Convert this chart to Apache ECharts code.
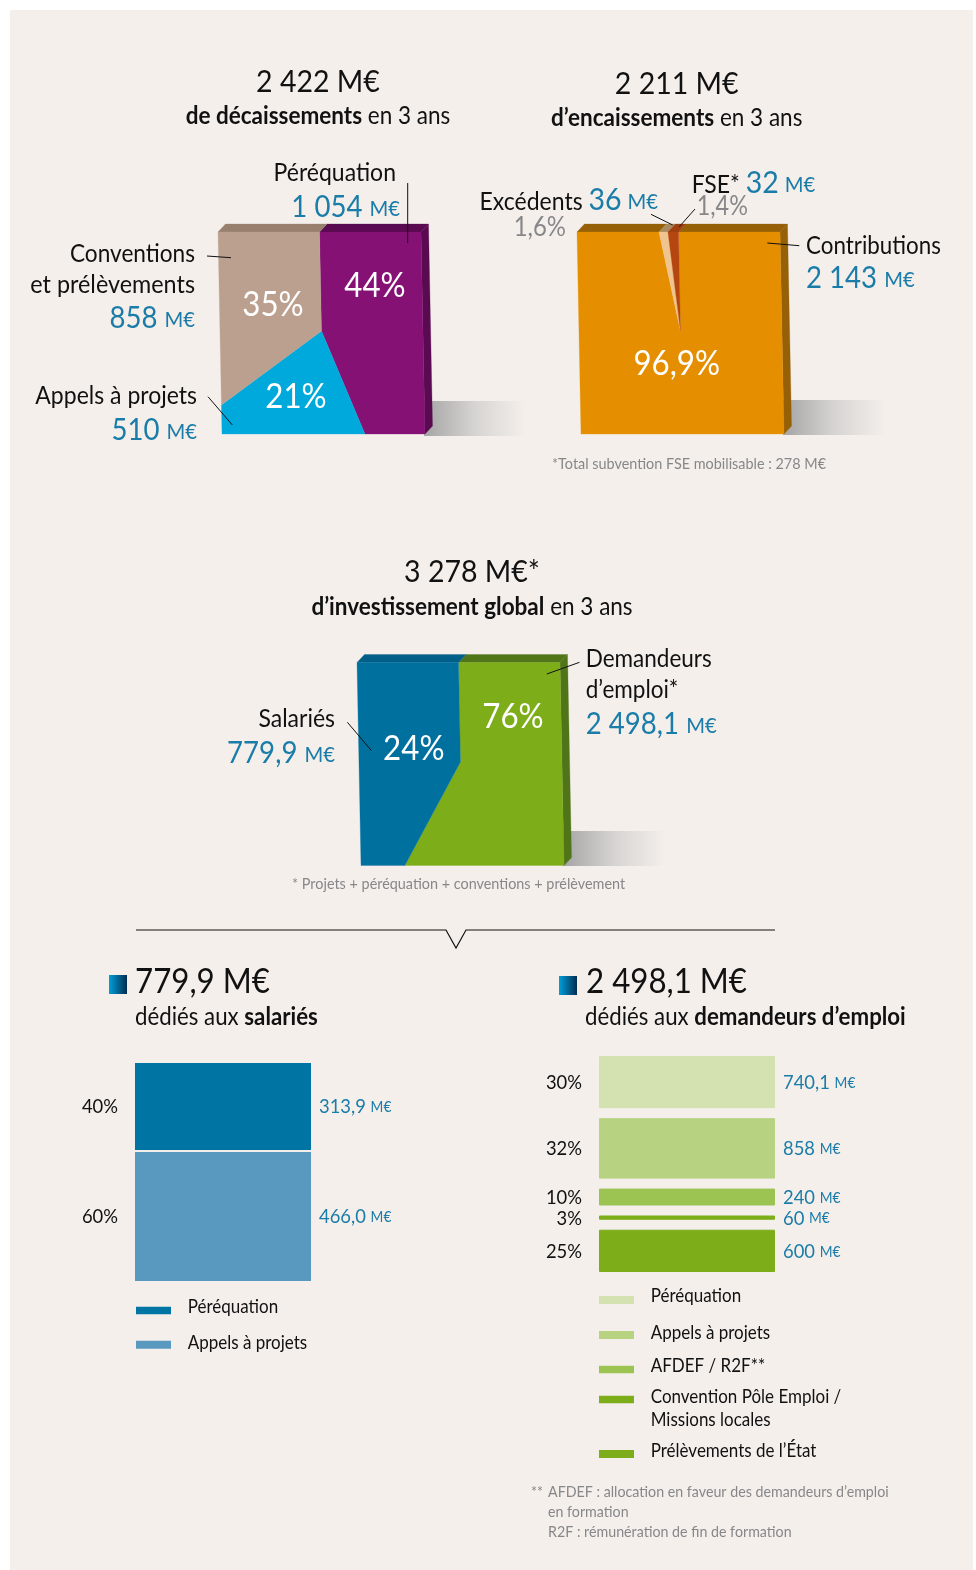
<!DOCTYPE html>
<html>
<head>
<meta charset="utf-8">
<title>Décaissements et encaissements</title>
<script src="https://cdn.jsdelivr.net/npm/echarts@6/dist/echarts.min.js"></script>
<style>
  html, body { margin: 0; padding: 0; background: #fff; }
  #main { width: 976px; height: 1570px; }
</style>
</head>
<body>
<div id="main"></div>
<script>
// parts dessinees (sens horaire depuis le haut du carre)
var decaissementsNoms = ['Péréquation', 'Appels à projets', 'Conventions et prélèvements'];
var decaissementsDessin = [44.9, 21.2, 33.9];
var encaissementsNoms = ['Contributions', 'Excédents', 'FSE'];
var encaissementsDessin = [97.6, 1.1, 1.3];
var investissementNoms = ['Demandeurs d\'emploi', 'Salariés'];
var investissementDessin = [57.1, 42.9];

// barres du bas
var salariesNoms = ['Péréquation', 'Appels à projets'];
var salariesValeurs = [313.9, 466.0];
var salariesPct = ['40%', '60%'];
var salariesLabels = ['313,9', '466,0'];
var demandeursNoms = ['Péréquation', 'Appels à projets', 'AFDEF / R2F**', 'Convention Pôle Emploi / Missions locales', 'Prélèvements de l\'État'];
var demandeursValeurs = [740.1, 858, 240, 60, 600];
var demandeursPct = ['30%', '32%', '10%', '3%', '25%'];
var demandeursLabels = ['740,1', '858', '240', '60', '600'];

// couleurs
var BG = '#f4efeb', BLUE_TXT = '#1a7ca8', GREY_TXT = '#87878a', INK = '#111';
var decaissementsFace = ['#861175', '#00a9dc', '#bba08f'];
var decaissementsDos = ['#5a0a50', '#007aa0', '#98806f'];
var encaissementsFace = ['#e58e00', '#f0c48f', '#b5460f'];
var encaissementsDos = ['#966006', '#a98a5c', '#a03e10'];
var investissementFace = ['#7dae1a', '#00719f'];
var investissementDos = ['#4f7518', '#005f88'];
var salariesCouleurs = ['#0074a3', '#5999bf'];
var demandeursCouleurs = ['#d3e2b0', '#b7d382', '#9bc453', '#7dae1a', '#7dae1a'];

var FONT = 'Lato';
var SX = 0.92; // police d'origine plus etroite

function rich(sizeB, sizeU) {
  return {
    b: { fontFamily: FONT, fontWeight: 'bold', fontSize: sizeB, fill: INK },
    n: { fontFamily: FONT, fontSize: sizeB, fill: INK },
    v: { fontFamily: FONT, fontSize: sizeB, fill: BLUE_TXT },
    u: { fontFamily: FONT, fontSize: sizeU, fill: BLUE_TXT, verticalAlign: 'bottom', padding: [0, 0, Math.round(0.3 * (sizeB - sizeU)), 0] },
    // ligne mixte : libelle noir + grand chiffre bleu
    l: { fontFamily: FONT, fontSize: sizeB, fill: INK, verticalAlign: 'bottom', padding: [0, 0, 1, 0] },
    V: { fontFamily: FONT, fontSize: 31, fill: BLUE_TXT },
    U: { fontFamily: FONT, fontSize: 22, fill: BLUE_TXT, verticalAlign: 'bottom', padding: [0, 0, 3, 0] }
  };
}

function txt(x, y, text, size, align, color, unitSize, sx) {
  return {
    type: 'text', x: x, y: y, scaleX: sx || SX, z: 20, silent: true,
    style: {
      text: text, fontFamily: FONT, fontSize: size, fill: color || INK,
      align: align || 'left', verticalAlign: 'middle',
      rich: rich(size, unitSize || Math.round(size * 0.72))
    }
  };
}

function segment(x1, y1, x2, y2) {
  return { type: 'line', z: 21, silent: true, shape: { x1: x1, y1: y1, x2: x2, y2: y2 }, style: { stroke: INK, lineWidth: 1 } };
}

function ombre(x, y, w, h) {
  return {
    type: 'rect', z: 1, silent: true, shape: { x: x, y: y, width: w, height: h },
    style: {
      fill: new echarts.graphic.LinearGradient(0, 0, 1, 0, [
        { offset: 0, color: '#a5a5a5' }, { offset: 0.5, color: '#d6d4d2' }, { offset: 1, color: BG }
      ])
    }
  };
}

function carre(x, y, s) {
  return {
    type: 'rect', z: 5, silent: true, shape: { x: x, y: y, width: s, height: s + 1 },
    style: { fill: new echarts.graphic.LinearGradient(0, 0, 1, 0, [{ offset: 0, color: '#009fdb' }, { offset: 1, color: '#002c50' }]) }
  };
}

function swatch(x, y, h, color) {
  return { type: 'rect', z: 5, silent: true, shape: { x: x, y: y, width: 35, height: h }, style: { fill: color } };
}

// point du perimetre du carre, t en cotes depuis le milieu du haut
function perim(t) {
  if (t <= 0.5) return [0.5 + t, 0];
  if (t <= 1.5) return [1, t - 0.5];
  if (t <= 2.5) return [1 - (t - 1.5), 1];
  if (t <= 3.5) return [0, 1 - (t - 2.5)];
  return [t - 3.5, 0];
}

function carrePie(gridIndex, name, parts, noms, face, dos) {
  var cum = 0;
  var data = parts.map(function (p, i) {
    var row = { name: noms[i], value: [cum, cum + p] };
    cum += p;
    return row;
  });
  var SKEW = 4, DX = 7.5, DY = -8, CV = 0.49;
  return {
    type: 'custom', name: name, coordinateSystem: 'cartesian2d',
    xAxisIndex: gridIndex, yAxisIndex: gridIndex, z: 5, silent: true,
    encode: { x: [0, 1] },
    data: data,
    renderItem: function (params, api) {
      var t0 = api.value(0) / 100 * 4, t1 = api.value(1) / 100 * 4;
      var i = params.dataIndex;
      function px(uv) {
        var p = api.coord(uv);
        return [p[0] + SKEW * uv[1], p[1]];
      }
      var pts = [px([0.5, CV]), px(perim(t0))];
      [0.5, 1.5, 2.5, 3.5].forEach(function (c) {
        if (c > t0 && c < t1) pts.push(px(perim(c)));
      });
      pts.push(px(perim(t1)));

      var kids = [];
      function tranche(a, b) {
        var s = Math.max(t0, a), e = Math.min(t1, b);
        if (e <= s) return;
        var p = px(perim(s)), q = px(perim(e));
        kids.push({
          type: 'polygon',
          shape: { points: [p, q, [q[0] + DX, q[1] + DY], [p[0] + DX, p[1] + DY]] },
          style: { fill: dos[i], stroke: dos[i], lineWidth: 0.3 }
        });
      }
      tranche(0, 0.5);
      tranche(0.5, 1.5);
      tranche(3.5, 4);
      kids.push({ type: 'polygon', shape: { points: pts }, style: { fill: face[i], stroke: face[i], lineWidth: 0.3 } });
      return { type: 'group', children: kids };
    }
  };
}

function barres(gridIndex, noms, valeurs, couleurs, ecart, bord) {
  var pile = 'total' + gridIndex;
  return valeurs.reduce(function (out, v, i) {
    out.push({
      type: 'bar', name: noms[i], stack: pile, xAxisIndex: gridIndex, yAxisIndex: gridIndex,
      barWidth: '100%', silent: true, data: [v],
      itemStyle: { color: couleurs[i], borderColor: couleurs[i], borderWidth: bord }
    });
    if (i < valeurs.length - 1) {
      out.push({
        type: 'bar', name: 'ecart', stack: pile, xAxisIndex: gridIndex, yAxisIndex: gridIndex,
        barWidth: '100%', silent: true, data: [ecart], itemStyle: { color: 'transparent' }
      });
    }
    return out;
  }, []);
}

function milieux(valeurs, ecart) {
  var cum = 0;
  return valeurs.map(function (v) {
    var m = cum + v / 2;
    cum += v + ecart;
    return m;
  });
}

function colonneTexte(gridIndex, name, mids, textes, x, align, size, color) {
  return {
    type: 'custom', name: name, coordinateSystem: 'cartesian2d',
    xAxisIndex: gridIndex, yAxisIndex: gridIndex, z: 10, silent: true,
    encode: { x: 0, y: 1 },
    data: mids.map(function (m) { return [0, m]; }),
    renderItem: function (params, api) {
      var p = api.coord([0, api.value(1)]);
      return txt(x, p[1] + 0.5, textes[params.dataIndex], size, align, color, 15);
    }
  };
}

function somme(a) { return a.reduce(function (s, v) { return s + v; }, 0); }
var ecartSal = 7.2, ecartDem = 142;

var grilles = [
  { left: 218, top: 232, width: 203, height: 202 },
  { left: 577, top: 232, width: 203, height: 202 },
  { left: 357, top: 662.5, width: 203, height: 203 },
  { left: 135, top: 1063, width: 176, height: 218 },
  { left: 599, top: 1056, width: 176, height: 216 }
];
var maxBarres = [
  somme(salariesValeurs) + ecartSal,
  somme(demandeursValeurs) + 4 * ecartDem
];

var xAxes = grilles.map(function (g, i) {
  if (i < 3) return { type: 'value', gridIndex: i, min: 0, max: 1, show: false };
  return { type: 'category', gridIndex: i, data: ['x'], show: false };
});
var yAxes = grilles.map(function (g, i) {
  if (i < 3) return { type: 'value', gridIndex: i, min: 0, max: 1, inverse: true, show: false };
  return { type: 'value', gridIndex: i, min: 0, max: maxBarres[i - 3], inverse: true, show: false };
});

var M = ' {u|M€}', MG = ' {U|M€}';
var SX_LEG = 0.85, SX_NOTE = 0.89, SX_SOUS = 0.9;
var textes = [
  // decaissements
  txt(318, 81.5, '2 422 M€', 31, 'center'),
  txt(318, 116, '{b|de décaissements} {n|en 3 ans}', 25, 'center', null, 0, SX_SOUS),
  txt(396, 173, 'Péréquation', 25, 'right'),
  txt(400, 207, '{v|1 054}' + M, 30, 'right'),
  txt(195, 254, 'Conventions', 25, 'right', null, 0, 0.905),
  txt(195, 285, 'et prélèvements', 25, 'right', null, 0, 0.935),
  txt(195, 318, '{v|858}' + M, 30, 'right'),
  txt(197, 396, 'Appels à projets', 25, 'right'),
  txt(197, 430, '{v|510}' + M, 30, 'right'),
  txt(375, 286.5, '44%', 34, 'center', '#fff'),
  txt(273, 305.5, '35%', 34, 'center', '#fff'),
  txt(296, 397.5, '21%', 34, 'center', '#fff'),
  segment(407.7, 183, 407.7, 243),
  segment(207, 256, 231, 257.7),
  segment(208, 396.7, 232.4, 425),
  // encaissements
  txt(676.7, 84, '2 211 M€', 31, 'center'),
  txt(676.7, 118, '{b|d’encaissements} {n|en 3 ans}', 25, 'center', null, 0, SX_SOUS),
  txt(658, 200, '{l|Excédents} {V|36}' + MG, 25, 'right'),
  txt(566, 228, '1,6%', 26, 'right', GREY_TXT),
  txt(691.7, 183, '{l|FSE*} {V|32}' + MG, 25, 'left'),
  txt(696.7, 207, '1,4%', 26, 'left', GREY_TXT, 0, 0.9),
  txt(806, 245.7, 'Contributions', 25, 'left', null, 0, 0.895),
  txt(806, 278, '{v|2 143}' + M, 30, 'left'),
  txt(676.7, 364, '96,9%', 34, 'center', '#fff'),
  txt(552, 464, '*Total subvention FSE mobilisable : 278 M€', 16, 'left', GREY_TXT, 0, 0.9),
  segment(651, 214.3, 672.7, 225),
  segment(695, 209, 679.3, 226.7),
  segment(767.3, 243, 799.3, 245.7),
  // investissement
  txt(472, 571.5, '3 278 M€*', 31, 'center'),
  txt(472, 606.7, '{b|d’investissement global} {n|en 3 ans}', 25, 'center', null, 0, SX_SOUS),
  txt(335, 719, 'Salariés', 25, 'right'),
  txt(335, 753, '{v|779,9}' + M, 30, 'right'),
  txt(585.7, 659, 'Demandeurs', 25, 'left', null, 0, 0.9),
  txt(585.7, 690, 'd’emploi*', 25, 'left', null, 0, 0.9),
  txt(585.7, 724, '{v|2 498,1}' + M, 30, 'left'),
  txt(413.8, 749.5, '24%', 34, 'center', '#fff'),
  txt(513, 717, '76%', 34, 'center', '#fff'),
  txt(292, 884, '* Projets + péréquation + conventions + prélèvement', 16, 'left', GREY_TXT, 0, 0.9),
  segment(347.4, 722.3, 371.5, 750.7),
  segment(579.5, 662.3, 546.8, 674),
  {
    type: 'polyline', z: 21, silent: true,
    shape: { points: [[136, 930], [446, 930], [456, 948], [466, 930], [775, 930]] },
    style: { stroke: INK, lineWidth: 1.2, fill: null }
  },
  // salaries
  carre(109, 975, 18),
  txt(135, 982.5, '779,9 M€', 34, 'left'),
  txt(135, 1016.7, '{n|dédiés aux} {b|salariés}', 25, 'left', null, 0, SX_NOTE),
  swatch(136, 1306.7, 7.5, salariesCouleurs[0]),
  swatch(136, 1340.7, 8, salariesCouleurs[1]),
  txt(187.7, 1307, salariesNoms[0], 20, 'left', null, 0, SX_LEG),
  txt(187.7, 1342.7, salariesNoms[1], 20, 'left', null, 0, SX_LEG),
  // demandeurs
  carre(559, 976, 18),
  txt(586, 982.5, '2 498,1 M€', 34, 'left'),
  txt(585, 1016.7, '{n|dédiés aux} {b|demandeurs d’emploi}', 25, 'left', null, 0, SX_NOTE),
  swatch(599, 1296, 8, demandeursCouleurs[0]),
  swatch(599, 1331, 8, demandeursCouleurs[1]),
  swatch(599, 1365.7, 7.5, demandeursCouleurs[2]),
  swatch(599, 1395.7, 7.5, demandeursCouleurs[3]),
  swatch(599, 1450, 8, demandeursCouleurs[4]),
  txt(650.7, 1296, 'Péréquation', 20, 'left', null, 0, SX_LEG),
  txt(650.7, 1332.3, 'Appels à projets', 20, 'left', null, 0, SX_LEG),
  txt(650.7, 1366, 'AFDEF / R2F**', 20, 'left', null, 0, SX_LEG),
  txt(650.7, 1396.7, 'Convention Pôle Emploi /', 20, 'left', null, 0, SX_LEG),
  txt(650.7, 1420, 'Missions locales', 20, 'left', null, 0, SX_LEG),
  txt(650.7, 1451, 'Prélèvements de l’État', 20, 'left', null, 0, SX_LEG),
  txt(531, 1492.3, '**', 16, 'left', GREY_TXT, 0, SX_NOTE),
  txt(548, 1492.3, 'AFDEF : allocation en faveur des demandeurs d’emploi', 16, 'left', GREY_TXT, 0, SX_NOTE),
  txt(548, 1512.3, 'en formation', 16, 'left', GREY_TXT, 0, SX_NOTE),
  txt(548, 1531.7, 'R2F : rémunération de fin de formation', 16, 'left', GREY_TXT, 0, SX_NOTE)
];

var fond = [
  { type: 'rect', z: -10, silent: true, shape: { x: 10, y: 10, width: 963, height: 1560 }, style: { fill: BG } },
  ombre(424, 401, 101, 35),
  ombre(783, 400, 102, 35),
  ombre(563, 831, 102, 35)
];

var series = [
  carrePie(0, 'Décaissements', decaissementsDessin, decaissementsNoms, decaissementsFace, decaissementsDos),
  carrePie(1, 'Encaissements', encaissementsDessin, encaissementsNoms, encaissementsFace, encaissementsDos),
  carrePie(2, 'Investissement', investissementDessin, investissementNoms, investissementFace, investissementDos)
]
  .concat(barres(3, salariesNoms, salariesValeurs, salariesCouleurs, ecartSal, 0))
  .concat(barres(4, demandeursNoms, demandeursValeurs, demandeursCouleurs, ecartDem, 1))
  .concat([
    colonneTexte(3, 'pct salaries', milieux(salariesValeurs, ecartSal), salariesPct, 118, 'right', 20),
    colonneTexte(3, 'M€ salaries', milieux(salariesValeurs, ecartSal), salariesLabels.map(function (s) { return '{v|' + s + '}' + M; }), 319, 'left', 20),
    colonneTexte(4, 'pct demandeurs', milieux(demandeursValeurs, ecartDem), demandeursPct, 582, 'right', 20),
    colonneTexte(4, 'M€ demandeurs', milieux(demandeursValeurs, ecartDem), demandeursLabels.map(function (s) { return '{v|' + s + '}' + M; }), 783, 'left', 20)
  ]);

var myChart = echarts.init(document.getElementById('main'));
myChart.setOption({
  animation: false,
  backgroundColor: '#fff',
  grid: grilles,
  xAxis: xAxes,
  yAxis: yAxes,
  series: series,
  graphic: { elements: fond.concat(textes) }
});
</script>
</body>
</html>
